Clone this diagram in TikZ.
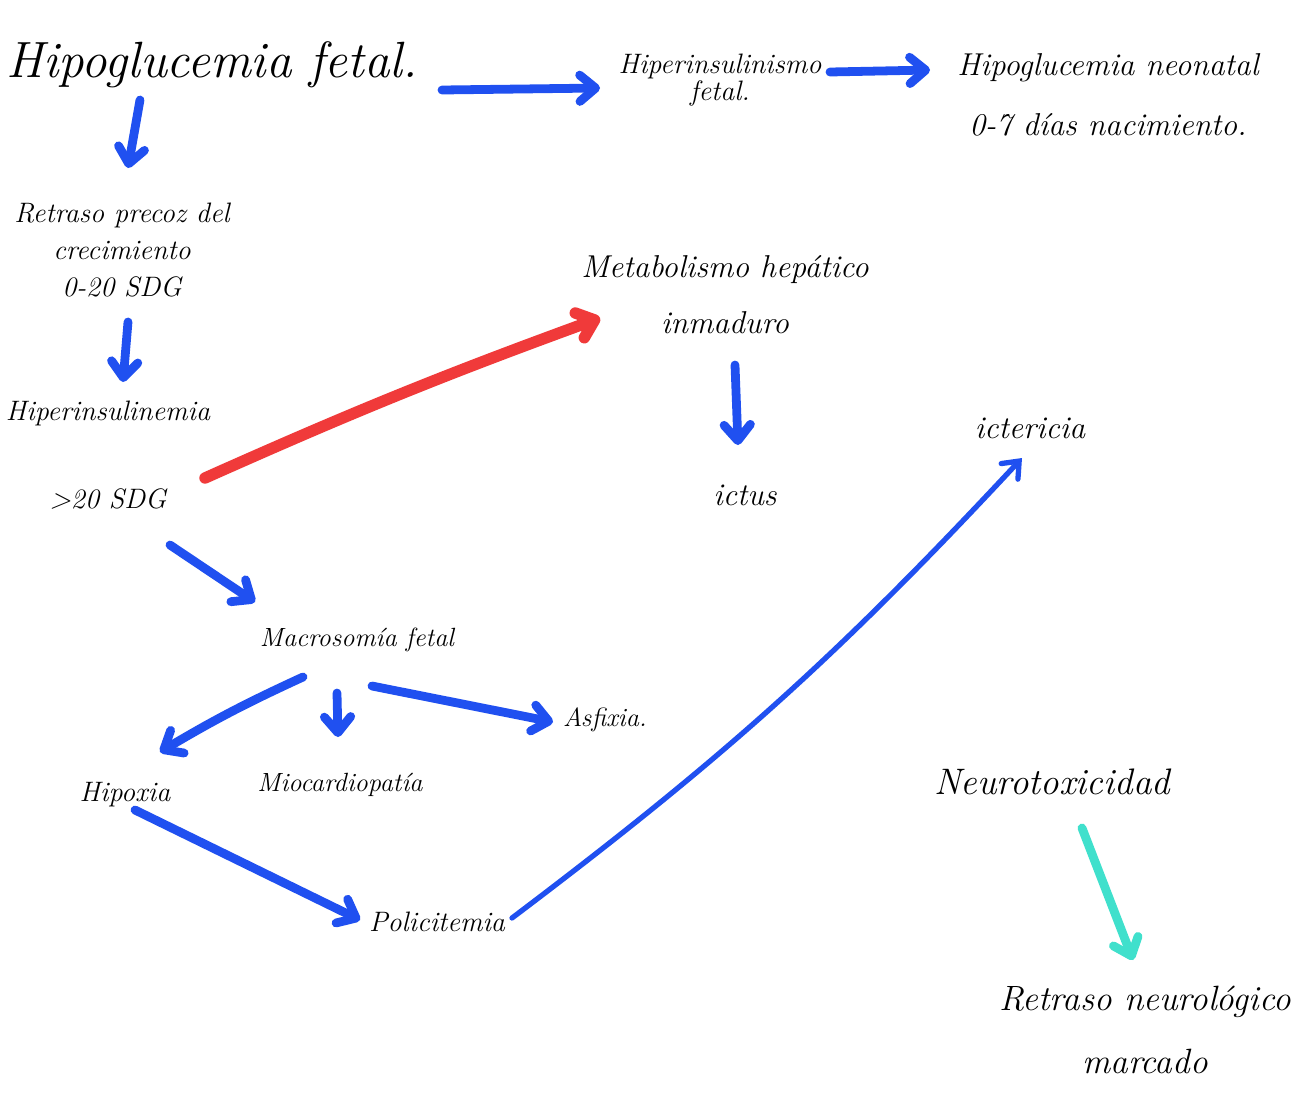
\documentclass[tikz,border=0pt]{standalone}
\usetikzlibrary{arrows.meta}
\definecolor{penblue}{RGB}{32,80,240}
\definecolor{penred}{RGB}{240,58,58}
\definecolor{penteal}{RGB}{64,224,204}
\tikzset{
  lbl/.style={inner sep=1pt, align=center, font=\itshape},
  pen/.style={line width=5pt, line cap=round, line join=round, color=penblue,
    -{Straight Barb[length=9pt, width=15pt, line cap=round, line join=round]}},
  thinpen/.style={pen, line width=3pt, -{Straight Barb[length=8pt, width=13pt, line cap=round]}},
  redpen/.style={pen, color=penred, line width=6.5pt},
  tealpen/.style={pen, color=penteal},
}
\begin{document}
\begin{tikzpicture}[x=0.02cm, y=-0.02cm]
\useasboundingbox[fill=white] (0,0) rectangle (1295,1093);
% nodes
\node[lbl, font=\itshape\fontsize{29}{34}\selectfont] (hf) at (212,65) {Hipoglucemia fetal.};
\node[lbl, font=\itshape\fontsize{16}{15}\selectfont] (hi) at (720,80) {Hiperinsulinismo\\fetal.};
\node[lbl, font=\itshape\fontsize{18}{34}\selectfont] (hn) at (1108,95) {Hipoglucemia neonatal\\0-7 días nacimiento.};
\node[lbl, font=\itshape\fontsize{16}{21}\selectfont] (ret) at (122,250) {Retraso precoz del\\crecimiento\\0-20 SDG};
\node[lbl, font=\itshape\fontsize{16}{50}\selectfont] (hins) at (108,455) {Hiperinsulinemia\\>20 SDG};
\node[lbl, font=\itshape\fontsize{18}{32}\selectfont] (met) at (725,295) {Metabolismo hepático\\inmaduro};
\node[lbl, font=\itshape\fontsize{18}{20}\selectfont] (ictus) at (745,495) {ictus};
\node[lbl, font=\itshape\fontsize{18}{20}\selectfont] (icter) at (1030,428) {ictericia};
\node[lbl, font=\itshape\fontsize{15}{20}\selectfont] (mac) at (357,640) {Macrosomía fetal};
\node[lbl, font=\itshape\fontsize{16}{20}\selectfont] (hpx) at (125,795) {Hipoxia};
\node[lbl, font=\itshape\fontsize{15}{20}\selectfont] (mio) at (340,785) {Miocardiopatía};
\node[lbl, font=\itshape\fontsize{15}{20}\selectfont] (asf) at (605,720) {Asfixia.};
\node[lbl, font=\itshape\fontsize{16}{20}\selectfont] (pol) at (437,922) {Policitemia};
\node[lbl, font=\itshape\fontsize{21}{26}\selectfont] (neu) at (1052,782) {Neurotoxicidad};
\node[lbl, font=\itshape\fontsize{20}{36}\selectfont] (rn) at (1145,1030) {Retraso neurológico\\marcado};
% connectors
\draw[pen] ([shift={(-72,35)}]hf.center) -- ([shift={(6,-82)}]ret.center);
\draw[pen] ([shift={(230,25)}]hf.center) -- ([shift={(-120,8)}]hi.center);
\draw[pen] ([shift={(110,-8)}]hi.center) -- ([shift={(-178,-25)}]hn.center);
\draw[pen] ([shift={(6,72)}]ret.center) -- ([shift={(15,-73)}]hins.center);
\draw[redpen] ([shift={(97,23)}]hins.center) to[bend left=2] ([shift={(-125,23)}]met.center);
\draw[pen] ([shift={(62,90)}]hins.center) -- ([shift={(-102,-38)}]mac.center);
\draw[pen] ([shift={(10,70)}]met.center) -- ([shift={(-7,-50)}]ictus.center);
\draw[pen] ([shift={(-54,37)}]mac.center) to[bend right=3] ([shift={(35,-43)}]hpx.center);
\draw[pen] ([shift={(-20,53)}]mac.center) -- ([shift={(-2,-48)}]mio.center);
\draw[pen] ([shift={(15,46)}]mac.center) -- ([shift={(-52,2)}]asf.center);
\draw[pen] ([shift={(10,15)}]hpx.center) -- ([shift={(-77,-2)}]pol.center);
\draw[thinpen] ([shift={(75,-4)}]pol.center) to[bend right=5] ([shift={(-8,30)}]icter.center);
\draw[tealpen] ([shift={(30,46)}]neu.center) -- ([shift={(-12,-70)}]rn.center);
\end{tikzpicture}
\end{document}
